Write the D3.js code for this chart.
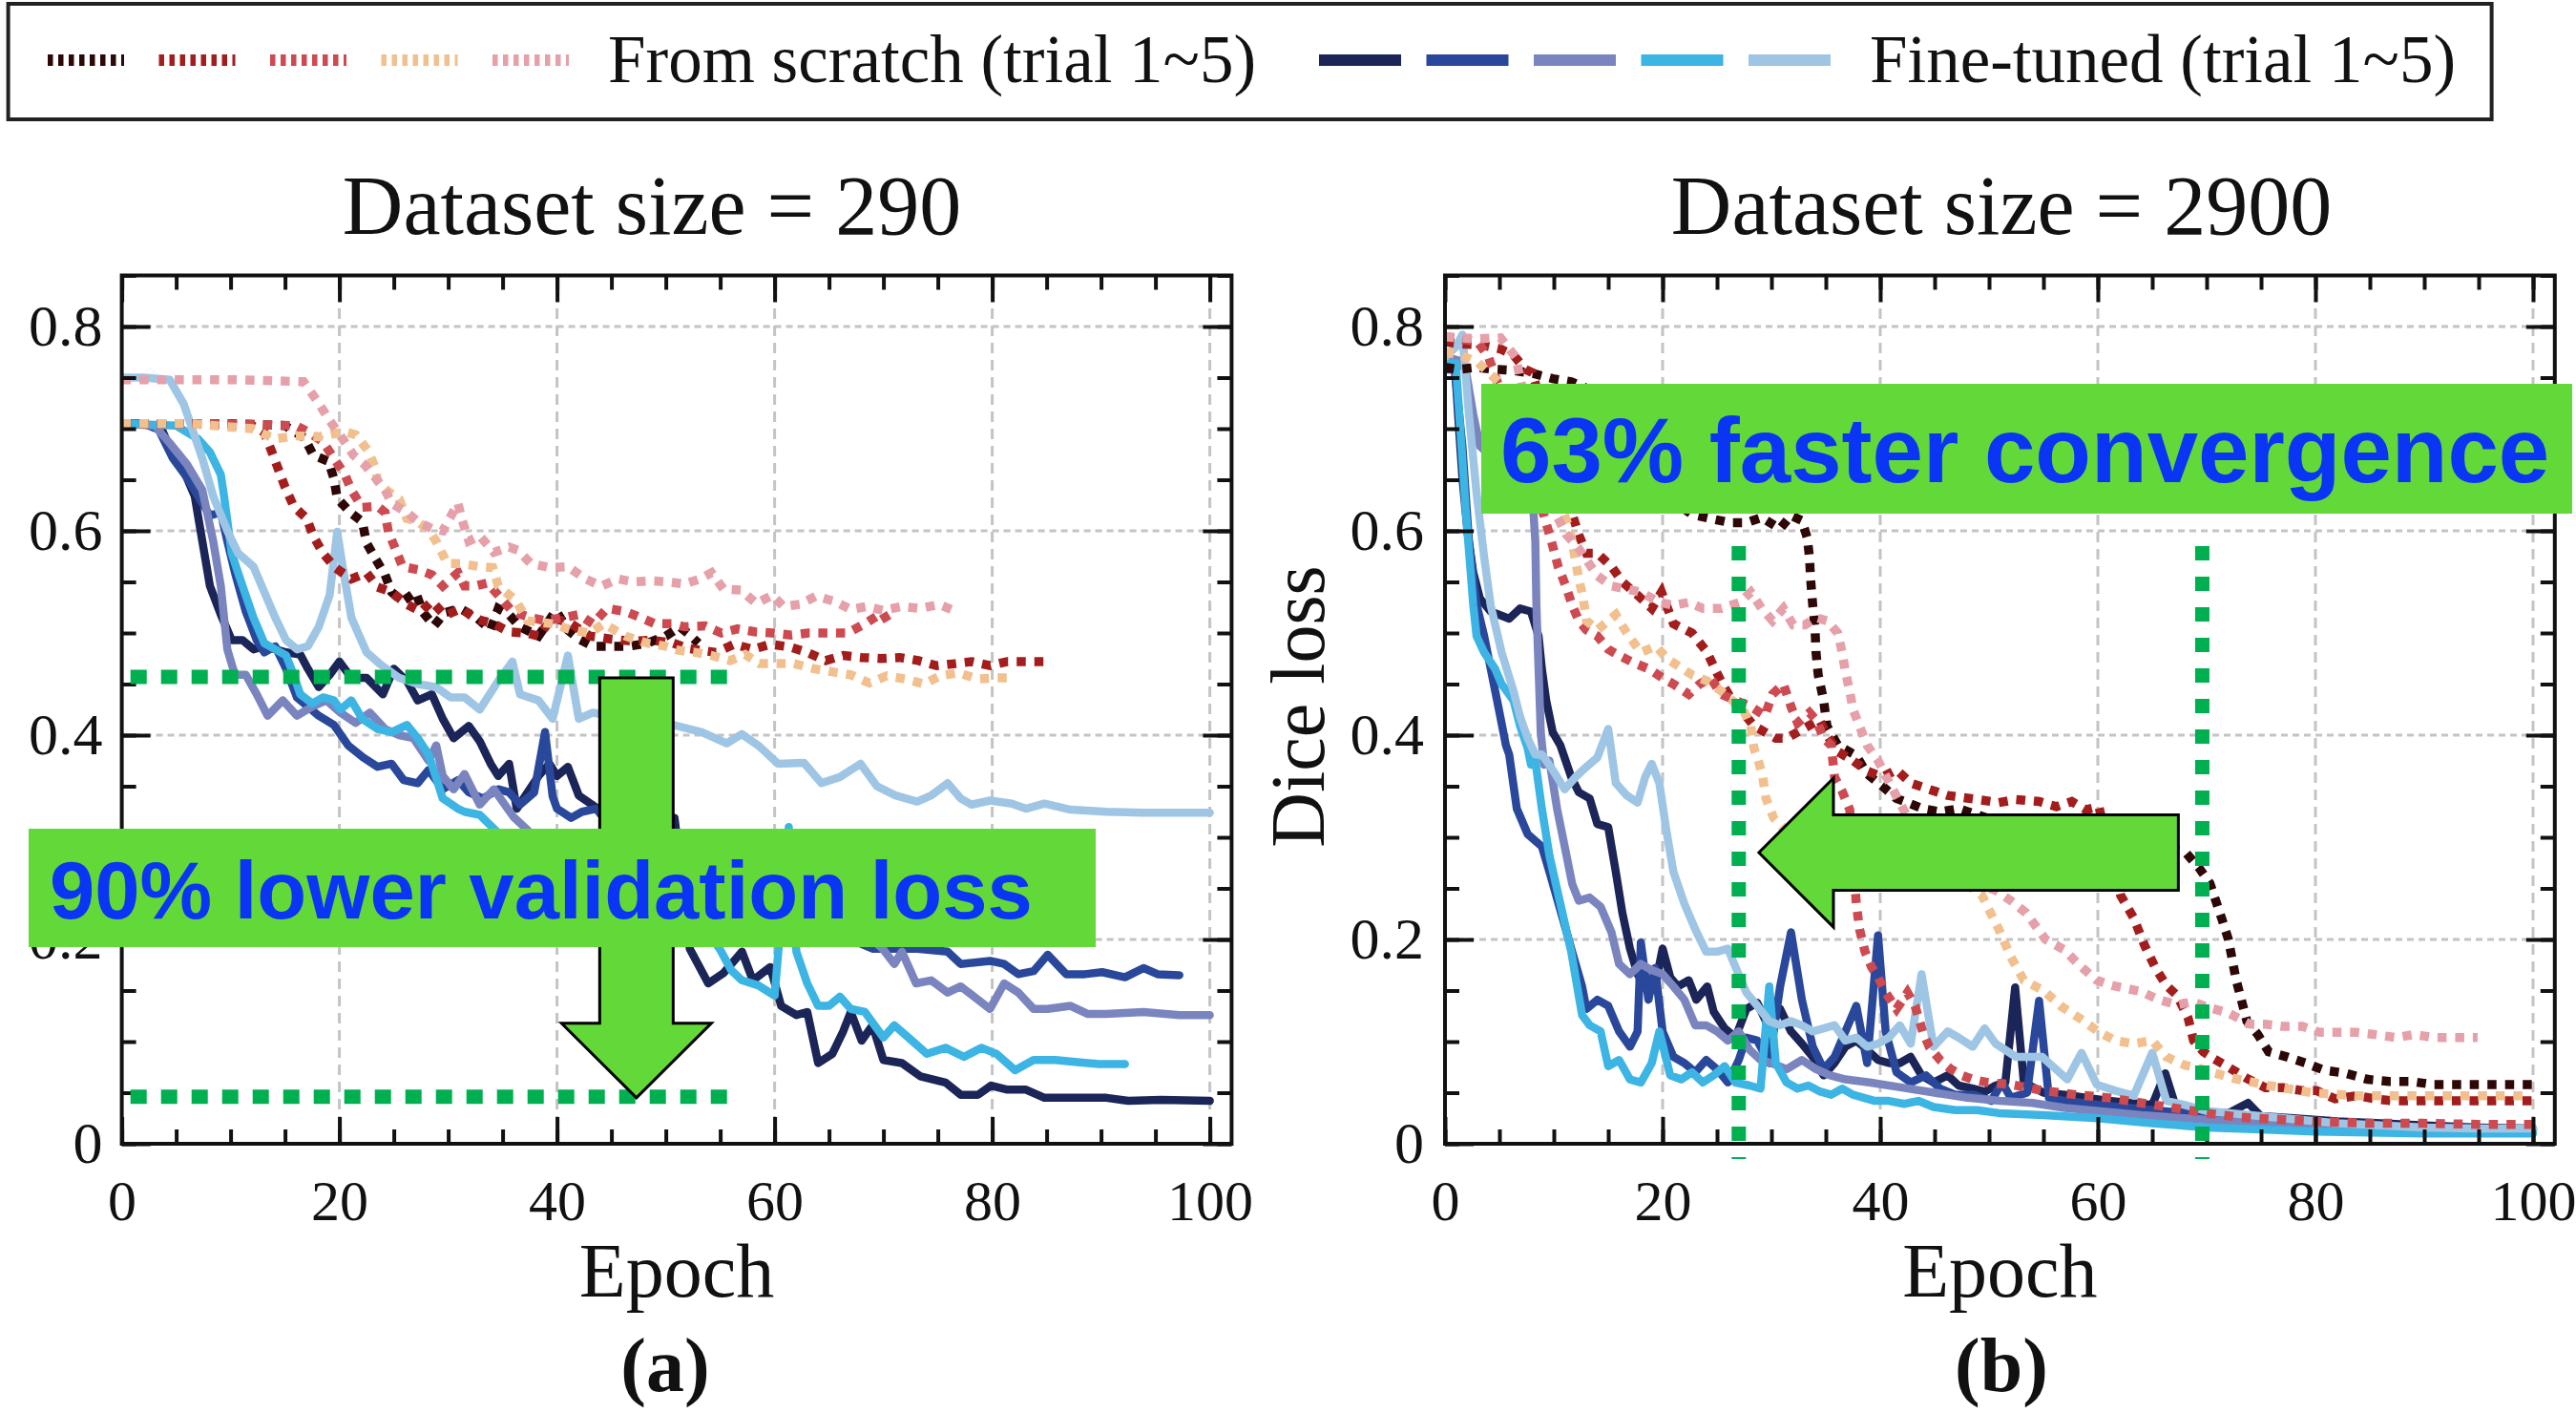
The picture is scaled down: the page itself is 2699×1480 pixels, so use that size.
<!DOCTYPE html>
<html><head><meta charset="utf-8">
<script src="https://cdn.jsdelivr.net/npm/d3@7"></script>
<style>html,body{margin:0;padding:0;background:#fff;}svg{display:block;}</style>
</head><body>
<svg id="chart" width="2699" height="1480"></svg>
<script>
// ---------------- DATA ----------------
const epochTicks = [0, 20, 40, 60, 80, 100];
const lossTicks = [0, 0.2, 0.4, 0.6, 0.8];
const lossTickLabels = ["0", "0.2", "0.4", "0.6", "0.8"];
const panelTitles = ["Dataset size = 290", "Dataset size = 2900"];
const panelTags = ["(a)", "(b)"];
const axisLabels = ["Epoch", "Dice loss"];
const legendLabels = ["From scratch (trial 1~5)", "Fine-tuned (trial 1~5)"];
const annotationTexts = ["90% lower validation loss", "63% faster convergence"];
const scratchColors = ["#2e0707", "#a31d1d", "#cc4a50", "#f2c08e", "#e5a0a9"];
const fineColors = ["#1b2558", "#2a489b", "#7a85bf", "#3cb4e4", "#9fc5e5"];

// Dataset size = 290 : from scratch, trials 1..5  [epoch, dice loss]
const scratch290_t1 = [[0,0.705],[5,0.705],[10,0.705],[15,0.703],[16.8,0.691],[17.6,0.674],[19,0.668],[19.5,0.651],[19.8,0.632],[21,0.618],[22.1,0.609],[22.5,0.588],[23.3,0.573],[24.2,0.557],[24.8,0.54],[25.8,0.531],[27,0.54],[27.7,0.52],[28.7,0.507],[29.7,0.52],[31.1,0.524],[32.6,0.515],[33.9,0.503],[34.6,0.524],[35.6,0.518],[36.6,0.506],[38.3,0.497],[39.9,0.522],[41,0.503],[42,0.494],[43.3,0.487],[45,0.487],[46.6,0.487],[48.3,0.49],[50,0.497],[51.3,0.506],[52,0.5],[53,0.49]];
const scratch290_t2 = [[0,0.705],[6,0.705],[12,0.703],[13.1,0.696],[13.8,0.677],[15,0.643],[15.8,0.624],[17,0.612],[17.6,0.595],[18.5,0.578],[19.6,0.564],[21.1,0.553],[22.5,0.559],[23.5,0.545],[24.8,0.54],[26.2,0.528],[27.5,0.521],[28.5,0.531],[29.7,0.517],[31.2,0.524],[32.5,0.514],[34.2,0.509],[35.6,0.501],[37.2,0.5],[38.3,0.497],[39.6,0.515],[41.3,0.509],[43,0.497],[45,0.494],[47,0.492],[48.7,0.493],[50.7,0.49],[52,0.485],[54.6,0.481],[56.3,0.489],[58,0.484],[59.6,0.489],[61.5,0.486],[63,0.481],[64.7,0.473],[66.3,0.478],[68,0.476],[69.7,0.475],[71.5,0.476],[73.2,0.473],[74.9,0.468],[76.6,0.47],[78.1,0.472],[79.8,0.468],[81.4,0.472],[83.3,0.472],[85,0.472]];
const scratch290_t3 = [[0,0.705],[8,0.705],[16,0.703],[17.1,0.697],[18.5,0.687],[19.5,0.671],[20.5,0.655],[21.1,0.64],[22.1,0.623],[23.5,0.624],[24.2,0.618],[24.5,0.599],[25.2,0.581],[25.8,0.565],[27.2,0.562],[28.5,0.557],[29.5,0.546],[30.9,0.559],[31.5,0.546],[32.5,0.546],[33.6,0.549],[34.6,0.537],[35.9,0.521],[37.6,0.515],[38.9,0.512],[40.6,0.515],[42,0.518],[43.3,0.509],[44.6,0.524],[46.3,0.521],[47.7,0.515],[49,0.509],[50.7,0.509],[51.7,0.506],[53.6,0.507],[55.1,0.5],[56.6,0.504],[58.3,0.501],[59.8,0.5],[61.5,0.498],[63.1,0.5],[64.9,0.5],[66.7,0.5],[68.3,0.509],[69.9,0.52],[70.7,0.506]];
const scratch290_t4 = [[0,0.705],[6,0.705],[12,0.7],[13,0.695],[14.1,0.69],[16,0.693],[18,0.692],[20.5,0.697],[21.5,0.694],[22.6,0.679],[23.3,0.662],[23.5,0.649],[24.3,0.64],[25.5,0.631],[26.2,0.612],[27.2,0.609],[28.2,0.601],[29,0.588],[29.9,0.568],[31.1,0.568],[32.9,0.565],[34.1,0.564],[34.6,0.546],[36.2,0.532],[37.3,0.512],[39.6,0.509],[41.3,0.503],[43,0.5],[44.3,0.509],[46.3,0.497],[48.3,0.49],[50,0.487],[51.2,0.483],[52.7,0.481],[54.2,0.478],[55.9,0.473],[57.3,0.479],[58.6,0.47],[60.1,0.47],[61.8,0.47],[63.6,0.465],[65.3,0.462],[67,0.459],[68.7,0.451],[70.3,0.458],[72,0.455],[73.7,0.45],[75.2,0.458],[76.9,0.461],[78.6,0.455],[80.2,0.456],[82.1,0.456]];
const scratch290_t5 = [[0,0.748],[5,0.748],[10,0.748],[16.7,0.746],[18.1,0.725],[19.1,0.708],[20.3,0.69],[21.3,0.674],[22.3,0.665],[23.3,0.652],[24.2,0.64],[24.8,0.627],[26.2,0.618],[27.2,0.609],[28.5,0.602],[29.5,0.6],[30.9,0.627],[31.3,0.61],[31.9,0.59],[32.9,0.595],[34.2,0.579],[35.6,0.584],[36.4,0.581],[37.6,0.568],[39.3,0.564],[41,0.565],[42.6,0.553],[44.1,0.546],[45.6,0.553],[47.1,0.55],[48.7,0.551],[50.2,0.55],[51.7,0.548],[53.2,0.553],[54.2,0.559],[55.3,0.543],[56.9,0.542],[58.3,0.529],[59.8,0.537],[60.8,0.526],[62.3,0.528],[63.8,0.536],[65.5,0.531],[67,0.523],[68.5,0.526],[70,0.522],[71.7,0.526],[73.4,0.524],[75.1,0.528],[76.9,0.52]];

// Dataset size = 290 : fine-tuned, trials 1..5
const fine290_t1 = [[0,0.705],[2,0.705],[3.7,0.699],[4.7,0.674],[5.7,0.659],[6.7,0.634],[7.4,0.59],[8.1,0.546],[9.1,0.518],[10.1,0.493],[11.1,0.493],[12.1,0.484],[13.1,0.487],[14.1,0.484],[15.1,0.481],[16.4,0.479],[17.1,0.465],[18.1,0.447],[19.1,0.459],[20,0.472],[21.1,0.456],[22.5,0.456],[24,0.44],[25,0.465],[26.2,0.453],[27.2,0.434],[28.5,0.44],[29.5,0.416],[30.5,0.397],[31.9,0.409],[32.9,0.394],[33.9,0.372],[34.6,0.36],[35.6,0.372],[36.3,0.328],[37.3,0.344],[38.3,0.36],[39.3,0.372],[40,0.36],[41,0.369],[42,0.341],[43.5,0.33],[45,0.31],[47,0.3],[49,0.31],[50.8,0.319],[51.5,0.26],[52.2,0.191],[53.9,0.157],[55.3,0.167],[57,0.188],[58,0.16],[59.6,0.173],[60.6,0.135],[62,0.126],[63,0.129],[64,0.079],[65.3,0.088],[66.3,0.11],[67,0.129],[68,0.101],[69,0.116],[70,0.082],[71.7,0.079],[73.4,0.066],[75.7,0.06],[77.1,0.048],[78.7,0.048],[79.9,0.057],[81.4,0.053],[83.1,0.053],[84.8,0.045],[87.2,0.045],[90.5,0.045],[92.5,0.042],[95.5,0.043],[100,0.042]];
const fine290_t2 = [[0,0.705],[2,0.705],[3.4,0.699],[4.7,0.671],[6,0.652],[7,0.634],[8.1,0.615],[9.1,0.618],[9.7,0.59],[10.4,0.559],[11.4,0.521],[12.4,0.493],[13.1,0.481],[14.1,0.487],[15.1,0.465],[16.1,0.437],[17.1,0.428],[18.1,0.419],[19.5,0.41],[20.8,0.39],[22.2,0.378],[23.5,0.369],[24.8,0.372],[25.9,0.356],[27.2,0.353],[28.2,0.366],[29.5,0.347],[30.9,0.356],[31.9,0.344],[33.2,0.338],[34.6,0.347],[35.6,0.344],[36.6,0.332],[37.9,0.344],[38.9,0.403],[39.6,0.34],[40,0.328],[41.3,0.319],[42.3,0.325],[43.6,0.328],[45,0.31],[47,0.295],[49,0.28],[51,0.27],[53,0.26],[55,0.25],[57,0.245],[59,0.235],[61,0.23],[63,0.22],[65,0.21],[67,0.2],[69,0.191],[70.9,0.191],[72.9,0.191],[75.9,0.188],[77.1,0.176],[79.8,0.179],[81.1,0.176],[82.4,0.166],[83.8,0.169],[85.1,0.185],[86.8,0.166],[88.5,0.166],[90.1,0.168],[92.2,0.163],[93.9,0.172],[95.2,0.166],[97.2,0.165]];
const fine290_t3 = [[0,0.705],[3,0.703],[4.4,0.686],[6,0.665],[7.4,0.64],[8.4,0.59],[9.1,0.546],[9.7,0.484],[10.4,0.459],[11.4,0.459],[12.4,0.44],[13.4,0.419],[14.8,0.434],[16.1,0.419],[17.5,0.428],[18.8,0.434],[20.1,0.422],[21.5,0.412],[22.8,0.422],[24.2,0.406],[25.5,0.4],[26.8,0.397],[28.2,0.375],[28.9,0.39],[29.5,0.36],[30.5,0.347],[31.5,0.362],[32.9,0.332],[34.2,0.347],[36,0.32],[38,0.3],[40,0.29],[43,0.28],[46,0.27],[50,0.26],[54,0.25],[58,0.24],[62,0.23],[66,0.21],[69,0.2],[70,0.19],[71,0.176],[71.7,0.188],[73,0.157],[74.4,0.16],[75.9,0.148],[77.1,0.154],[79.8,0.132],[81.1,0.157],[82.4,0.148],[83.8,0.132],[85.1,0.132],[87.2,0.135],[88.8,0.127],[90.5,0.127],[93.9,0.129],[97.2,0.126],[100,0.126]];
const fine290_t4 = [[0,0.705],[5,0.703],[7,0.69],[8.1,0.677],[9.1,0.655],[9.4,0.634],[10.1,0.578],[11.1,0.546],[12.1,0.515],[13.1,0.49],[14.1,0.484],[15.1,0.478],[15.8,0.459],[16.4,0.44],[17.5,0.431],[18.5,0.437],[19.5,0.434],[20.1,0.425],[21.1,0.434],[22.1,0.416],[23.5,0.406],[24.8,0.403],[26.2,0.41],[27.2,0.397],[28.2,0.381],[29.5,0.338],[30.9,0.328],[31.5,0.325],[32.9,0.322],[35,0.3],[38,0.28],[42,0.27],[46,0.26],[50,0.24],[53,0.22],[55,0.19],[56,0.17],[57,0.16],[58.5,0.155],[60,0.145],[61.3,0.31],[62,0.188],[63,0.157],[64,0.135],[65,0.135],[66,0.144],[67,0.132],[68.3,0.129],[70,0.104],[71,0.116],[72.3,0.104],[74,0.088],[75.7,0.094],[77.4,0.085],[79,0.094],[80.4,0.088],[82.1,0.072],[83.8,0.082],[85.8,0.082],[87.8,0.08],[89.8,0.078],[92.2,0.078]];
const fine290_t5 = [[0,0.75],[2,0.75],[4.4,0.748],[5.7,0.724],[6.4,0.702],[7.4,0.671],[8.4,0.634],[9.7,0.6],[10.7,0.578],[12.1,0.565],[13.1,0.54],[14.1,0.515],[15.1,0.493],[16.1,0.484],[17.1,0.487],[18.1,0.506],[19.1,0.537],[19.8,0.599],[20.3,0.565],[21.1,0.515],[22.5,0.481],[23.8,0.469],[25.5,0.456],[27.2,0.45],[28.9,0.447],[30.2,0.437],[31.5,0.437],[32.9,0.425],[34.6,0.453],[35.9,0.472],[36.6,0.44],[38.3,0.434],[39.6,0.416],[41,0.478],[42,0.416],[43.3,0.422],[44.6,0.419],[46,0.422],[47.3,0.422],[49,0.419],[50.7,0.41],[53.3,0.403],[55.6,0.392],[57,0.401],[58.6,0.389],[60.3,0.372],[62.7,0.373],[64.3,0.353],[66,0.359],[67.9,0.372],[69.4,0.35],[71.1,0.341],[73.1,0.335],[74.4,0.341],[75.9,0.353],[77.1,0.338],[78.1,0.332],[79.8,0.336],[81.8,0.333],[83.1,0.328],[84.8,0.333],[87.2,0.327],[90.5,0.325],[93.9,0.324],[97.2,0.324],[100,0.324]];

// Dataset size = 2900 : from scratch, trials 1..5
const scratch2900_t1 = [[0,0.76],[1.2,0.758],[2.9,0.76],[4.6,0.758],[6.3,0.757],[8.1,0.754],[9.9,0.749],[11.6,0.746],[14,0.735],[16,0.71],[18,0.68],[20,0.645],[21.5,0.625],[22.7,0.616],[24.4,0.612],[26.2,0.608],[27.7,0.608],[29.1,0.613],[30.8,0.602],[31.8,0.615],[32.8,0.61],[33.3,0.593],[33.5,0.574],[33.6,0.553],[33.8,0.527],[34,0.506],[34.1,0.481],[34.3,0.459],[34.8,0.434],[35.1,0.409],[36.1,0.39],[37.8,0.38],[38.8,0.362],[40.2,0.35],[41.5,0.338],[42.5,0.334],[43.9,0.328],[45.5,0.325],[47.2,0.328],[48.9,0.322],[51,0.315],[54,0.31],[57,0.305],[60,0.3],[63,0.295],[66,0.29],[68,0.286],[69.3,0.27],[70.3,0.255],[71.4,0.22],[72,0.2],[72.7,0.161],[73.7,0.12],[74.7,0.107],[75.7,0.09],[77.4,0.085],[79.1,0.079],[80.8,0.072],[82.8,0.069],[84.8,0.063],[86.8,0.061],[88.8,0.061],[90.8,0.058],[93.5,0.058],[95.5,0.058],[98.9,0.058],[100,0.058]];
const scratch2900_t2 = [[0,0.785],[1.4,0.783],[3.4,0.782],[5.1,0.778],[6.3,0.772],[7.4,0.758],[8,0.755],[9,0.72],[10,0.68],[11,0.64],[12.3,0.596],[13,0.578],[14,0.578],[15.3,0.565],[16.3,0.55],[17.7,0.537],[19,0.524],[19.9,0.54],[21,0.509],[22.7,0.5],[24.1,0.481],[24.8,0.465],[25.5,0.45],[26.4,0.434],[27.4,0.422],[28.4,0.409],[29.4,0.403],[30.4,0.397],[31.4,0.397],[32.4,0.403],[33.4,0.409],[34.4,0.415],[35.1,0.4],[36.1,0.384],[37.5,0.375],[38.8,0.365],[40.2,0.359],[41.5,0.366],[42.8,0.353],[44.5,0.347],[46.2,0.341],[47.5,0.339],[49.6,0.336],[50.9,0.334],[52.5,0.337],[54.6,0.335],[56.2,0.33],[57.6,0.335],[58.9,0.327],[60.1,0.33],[61,0.29],[62.1,0.243],[63.3,0.221],[64.3,0.194],[65.3,0.172],[66.3,0.155],[67.3,0.145],[68.3,0.123],[68.8,0.101],[69.7,0.09],[70.7,0.083],[72,0.075],[73.7,0.064],[75.4,0.055],[77,0.055],[78.8,0.052],[80.1,0.052],[81.8,0.044],[83.8,0.047],[85.5,0.044],[87.1,0.042],[90,0.042],[94,0.042],[97,0.042],[100,0.042]];
const scratch2900_t3 = [[0,0.79],[1.4,0.788],[3,0.785],[4,0.77],[5,0.74],[6,0.71],[7,0.68],[8,0.645],[9.1,0.615],[9.8,0.589],[10.4,0.565],[11.1,0.546],[11.7,0.527],[12.3,0.512],[13,0.503],[14,0.497],[15,0.484],[16,0.478],[17.3,0.471],[18.7,0.465],[20,0.456],[21,0.45],[22.4,0.44],[23.4,0.45],[24.4,0.456],[25.4,0.44],[26.7,0.434],[28.1,0.428],[29.4,0.419],[30.1,0.44],[31.1,0.45],[31.8,0.428],[32.4,0.412],[33.5,0.422],[34.1,0.415],[34.8,0.397],[35.5,0.39],[35.8,0.359],[36.5,0.345],[37.2,0.327],[37.5,0.282],[37.8,0.235],[38.1,0.21],[38.6,0.188],[39.2,0.173],[39.8,0.163],[40.5,0.148],[41.5,0.132],[42.5,0.148],[43.2,0.135],[43.9,0.11],[44.5,0.095],[45.5,0.082],[46.5,0.073],[47.5,0.067],[48.5,0.063],[49.9,0.06],[52,0.058],[55,0.052],[58,0.048],[61,0.045],[64,0.04],[67,0.035],[70,0.03],[73,0.026],[76,0.024],[80,0.022],[85,0.02],[90,0.02],[95,0.019],[100,0.019]];
const scratch2900_t4 = [[0,0.775],[1.4,0.772],[3,0.765],[5,0.745],[7,0.71],[9,0.67],[10.5,0.63],[11.5,0.6],[12.3,0.553],[12.7,0.534],[13,0.512],[14,0.503],[15.7,0.518],[16.7,0.5],[18,0.481],[19.4,0.487],[20.4,0.475],[21.4,0.468],[22.7,0.459],[24.1,0.453],[25.4,0.443],[26.4,0.434],[27.4,0.425],[28.1,0.409],[28.4,0.387],[28.8,0.375],[29.2,0.359],[29.5,0.338],[30.2,0.319],[31,0.31],[33,0.3],[36,0.29],[40,0.28],[44,0.27],[47,0.26],[49.3,0.244],[50.9,0.21],[52,0.183],[53.2,0.16],[55,0.15],[56.7,0.134],[58.6,0.121],[60,0.11],[61.6,0.101],[63.3,0.098],[65,0.101],[66.3,0.085],[68,0.077],[69.3,0.074],[70.1,0.071],[72.5,0.064],[75.7,0.057],[79.7,0.05],[83.7,0.047],[87,0.047],[91.6,0.047],[95,0.047],[99.6,0.047]];
const scratch2900_t5 = [[0,0.79],[1.4,0.789],[3.1,0.788],[5.1,0.789],[6.5,0.77],[7.5,0.72],[8.5,0.67],[9.5,0.63],[10.4,0.612],[11.1,0.597],[12.2,0.584],[14,0.556],[15.3,0.546],[16.7,0.543],[18,0.54],[19.7,0.53],[21,0.527],[22.4,0.53],[23.7,0.524],[25.4,0.524],[27.1,0.53],[28.1,0.54],[29.1,0.524],[30.1,0.512],[31.1,0.524],[32,0.508],[33.1,0.508],[34.1,0.515],[35.1,0.512],[36.1,0.5],[36.5,0.481],[36.8,0.462],[37.2,0.443],[37.5,0.425],[38.2,0.406],[38.8,0.39],[39.8,0.375],[41,0.35],[42,0.33],[43,0.31],[44,0.3],[45,0.29],[46,0.28],[47,0.27],[48,0.26],[49,0.255],[50.6,0.248],[52,0.238],[53.4,0.226],[55.2,0.2],[56.9,0.19],[58.3,0.175],[59.9,0.16],[61.3,0.155],[62.6,0.152],[64,0.149],[65.6,0.141],[67.3,0.136],[68.7,0.139],[70.3,0.133],[72,0.128],[74,0.117],[75.4,0.117],[77,0.115],[78.8,0.115],[80.4,0.109],[82.1,0.109],[83.8,0.109],[85.4,0.107],[87.4,0.104],[89.1,0.107],[90.8,0.104],[92.8,0.104],[94.9,0.104]];

// Dataset size = 2900 : fine-tuned, trials 1..5
const fine2900_t1 = [[0,0.764],[0.9,0.764],[1.2,0.714],[1.6,0.652],[2.1,0.596],[2.6,0.559],[3.2,0.534],[4.2,0.521],[5.9,0.514],[6.9,0.524],[7.9,0.521],[8.6,0.497],[8.9,0.465],[9.3,0.434],[9.9,0.403],[10.6,0.39],[11.6,0.359],[12.3,0.344],[13.3,0.338],[14,0.313],[15,0.31],[15.7,0.266],[16.3,0.226],[17,0.191],[17.7,0.166],[18.7,0.148],[19.3,0.154],[20,0.191],[20.7,0.163],[21.4,0.154],[22.4,0.16],[23.1,0.141],[24.1,0.154],[24.7,0.129],[25.7,0.113],[26.7,0.104],[27.7,0.132],[28.7,0.138],[29.8,0.113],[30.8,0.132],[31.8,0.11],[32.8,0.098],[33.8,0.085],[34.8,0.067],[35.8,0.079],[36.8,0.095],[37.8,0.101],[38.8,0.092],[39.8,0.082],[40.8,0.079],[41.8,0.079],[42.8,0.085],[43.8,0.067],[44.9,0.06],[46.2,0.067],[47.2,0.057],[48.5,0.054],[49.6,0.051],[50.6,0.057],[51.5,0.06],[52.4,0.153],[53.2,0.06],[55,0.05],[57,0.048],[59,0.045],[61,0.042],[63,0.04],[65,0.038],[66.2,0.069],[67.2,0.035],[69,0.032],[72,0.03],[73.8,0.04],[75,0.027],[78,0.025],[82,0.022],[86,0.02],[90,0.018],[95,0.016],[100,0.015]];
const fine2900_t2 = [[0,0.758],[0.9,0.758],[1.6,0.683],[2.2,0.59],[2.9,0.528],[3.6,0.497],[4.2,0.465],[4.9,0.428],[5.6,0.39],[5.9,0.381],[6.6,0.328],[7.6,0.303],[8.9,0.291],[9.6,0.266],[10.6,0.229],[11.6,0.191],[12.6,0.154],[13,0.132],[14,0.141],[15,0.135],[16,0.11],[17,0.095],[17.7,0.11],[18,0.197],[18.7,0.141],[19.3,0.172],[20,0.11],[21,0.085],[22,0.079],[23,0.07],[24,0.082],[25,0.073],[26,0.06],[27,0.082],[27.7,0.104],[28.7,0.101],[29.8,0.079],[30.8,0.154],[31.8,0.207],[32.8,0.141],[33.8,0.095],[34.8,0.073],[35.8,0.085],[36.8,0.11],[37.8,0.135],[38.8,0.079],[39.8,0.204],[40.5,0.11],[41.5,0.07],[42.8,0.06],[44.2,0.067],[45.5,0.054],[46.9,0.048],[48.6,0.048],[50.2,0.042],[51.2,0.06],[52,0.045],[53.5,0.05],[54.6,0.14],[55.5,0.045],[57,0.042],[60,0.038],[63,0.035],[66,0.032],[70,0.028],[75,0.024],[80,0.02],[85,0.018],[90,0.016],[95,0.015],[100,0.014]];
const fine2900_t3 = [[0,0.77],[1.2,0.767],[1.9,0.758],[2.6,0.714],[3.2,0.683],[4,0.675],[5,0.672],[6,0.668],[7,0.66],[8,0.64],[8.3,0.59],[8.4,0.527],[8.6,0.465],[8.8,0.403],[9.1,0.371],[9.6,0.375],[10.3,0.328],[11,0.291],[11.7,0.254],[12.3,0.238],[13.3,0.241],[14.3,0.232],[15.3,0.207],[16,0.176],[17,0.166],[18,0.176],[19,0.17],[20,0.166],[21,0.154],[22,0.141],[23,0.116],[24,0.116],[25,0.11],[26,0.101],[27,0.11],[28,0.092],[29,0.082],[30,0.079],[31.4,0.073],[32.8,0.082],[34.1,0.073],[35.4,0.067],[36.8,0.063],[39,0.06],[42,0.055],[45,0.05],[48,0.045],[51,0.042],[54,0.04],[57,0.035],[60,0.032],[64,0.028],[68,0.025],[72,0.022],[76,0.02],[80,0.018],[85,0.016],[90,0.015],[95,0.014],[100,0.013]];
const fine2900_t4 = [[0,0.764],[1,0.764],[1.9,0.621],[2.6,0.527],[2.9,0.497],[3.6,0.481],[4.6,0.465],[5.2,0.45],[6.3,0.434],[6.9,0.409],[7.6,0.387],[7.9,0.371],[8.3,0.375],[8.9,0.328],[9.6,0.282],[10.6,0.235],[11.6,0.188],[12.6,0.126],[13.3,0.116],[14.3,0.11],[15,0.076],[16,0.082],[17,0.063],[18,0.06],[19,0.079],[19.7,0.11],[20.7,0.067],[21.7,0.063],[22.7,0.07],[23.7,0.06],[24.7,0.067],[25.7,0.076],[26.7,0.06],[28,0.057],[29,0.054],[29.8,0.154],[30.4,0.079],[31.4,0.06],[32.4,0.054],[33.4,0.057],[34.5,0.051],[35.5,0.048],[36.5,0.054],[37.5,0.048],[38.5,0.045],[39.5,0.042],[40.8,0.042],[42.2,0.039],[43.5,0.042],[44.9,0.036],[46.9,0.033],[48.9,0.033],[50.9,0.03],[55,0.028],[60,0.025],[65,0.02],[70,0.016],[75,0.014],[80,0.012],[85,0.011],[90,0.01],[95,0.01],[100,0.01]];
const fine2900_t5 = [[0,0.77],[1,0.78],[1.6,0.792],[2.2,0.714],[2.9,0.637],[3.6,0.574],[4.2,0.527],[5.2,0.481],[6.3,0.443],[6.9,0.418],[7.6,0.397],[8.3,0.381],[8.9,0.381],[9.9,0.366],[11,0.347],[12,0.359],[13,0.369],[14,0.378],[15,0.406],[15.7,0.353],[16.7,0.341],[17.7,0.334],[18.4,0.359],[19,0.372],[19.7,0.353],[20.4,0.303],[21,0.266],[22,0.235],[23,0.21],[24,0.188],[25,0.188],[26,0.191],[26.7,0.173],[27.7,0.148],[28.7,0.135],[29.8,0.12],[30.8,0.116],[31.8,0.12],[32.8,0.116],[33.8,0.11],[34.8,0.113],[35.8,0.116],[36.8,0.101],[37.8,0.104],[38.8,0.095],[39.8,0.098],[40.8,0.104],[41.8,0.116],[42.8,0.098],[43.8,0.166],[44.9,0.095],[46.2,0.11],[47.2,0.104],[48.5,0.095],[49.6,0.113],[50.6,0.098],[52.5,0.085],[54.9,0.085],[57.2,0.063],[58.5,0.089],[59.9,0.058],[61.6,0.052],[63.3,0.047],[65,0.089],[66.3,0.042],[68,0.038],[70,0.032],[74,0.028],[78,0.024],[82,0.02],[86,0.018],[90,0.016],[95,0.015],[100,0.015]];

// ---------------- DRAWING ----------------
const svg = d3.select("#chart");
svg.append("rect").attr("width", 2699).attr("height", 1480).attr("fill", "#fff");
const SERIF = "'Liberation Serif','Times New Roman',serif";
const SANS = "'Liberation Sans',Arial,sans-serif";
const INK = "#111";

const panels = [
  { x0: 127.6, scratch: [scratch290_t1, scratch290_t2, scratch290_t3, scratch290_t4, scratch290_t5],
    fine: [fine290_t1, fine290_t2, fine290_t3, fine290_t4, fine290_t5], titleX: 683, tagX: 697, ylab: false },
  { x0: 1514, scratch: [scratch2900_t1, scratch2900_t2, scratch2900_t3, scratch2900_t4, scratch2900_t5],
    fine: [fine2900_t1, fine2900_t2, fine2900_t3, fine2900_t4, fine2900_t5], titleX: 2097, tagX: 2097, ylab: true }
];

const scales = [];
panels.forEach((p, pi) => {
  const x = d3.scaleLinear().domain([0, 102]).range([p.x0, p.x0 + 102 * 11.4]);
  const y = d3.scaleLinear().domain([0, 0.85]).range([1198, 288.5]);
  scales.push({ x, y });
  const g = svg.append("g");

  const cid = "clip" + pi;
  svg.append("clipPath").attr("id", cid).append("rect")
    .attr("x", x(0)).attr("y", y(0.85)).attr("width", x(102) - x(0)).attr("height", y(0) - y(0.85));

  // grid
  g.append("g").selectAll("line").data(epochTicks.filter(t => t > 0)).join("line")
    .attr("x1", d => x(d)).attr("x2", d => x(d)).attr("y1", y(0)).attr("y2", y(0.85))
    .attr("stroke", "#c4c4c4").attr("stroke-width", 3).attr("stroke-dasharray", "11,7");
  g.append("g").selectAll("line").data(lossTicks.filter(t => t > 0)).join("line")
    .attr("x1", x(0)).attr("x2", x(102)).attr("y1", d => y(d)).attr("y2", d => y(d))
    .attr("stroke", "#c4c4c4").attr("stroke-width", 3.2).attr("stroke-dasharray", "7,5");

  const line = d3.line().x(d => x(d[0])).y(d => y(d[1]));
  const lg = g.append("g").attr("clip-path", `url(#${cid})`);
  p.fine.forEach((s, i) => {
    lg.append("path").datum(s).attr("d", line).attr("fill", "none")
      .attr("stroke", fineColors[i]).attr("stroke-width", 8.5)
      .attr("stroke-linejoin", "round").attr("stroke-linecap", "round");
  });
  p.scratch.forEach((s, i) => {
    lg.append("path").datum(s).attr("d", line).attr("fill", "none")
      .attr("stroke", scratchColors[i]).attr("stroke-width", 9.5)
      .attr("stroke-dasharray", "9.5,9").attr("stroke-linejoin", "miter");
  });

  // frame
  g.append("rect").attr("x", x(0)).attr("y", y(0.85)).attr("width", x(102) - x(0)).attr("height", y(0) - y(0.85))
    .attr("fill", "none").attr("stroke", INK).attr("stroke-width", 4);

  const minorE = d3.range(0, 101, 5);
  const minorL = d3.range(0, 0.851, 0.05);
  const styleAxis = (sel, fs) => {
    sel.select(".domain").remove();
    sel.selectAll(".tick line").attr("stroke", INK).attr("stroke-width", 4);
    sel.attr("font-family", SERIF).attr("font-size", fs || 62);
    sel.selectAll("text").attr("fill", INK);
  };
  // bottom
  g.append("g").attr("transform", `translate(0,${y(0)})`)
    .call(d3.axisBottom(x).tickValues(minorE).tickSize(-15).tickFormat("")).call(styleAxis);
  g.append("g").attr("transform", `translate(0,${y(0)})`)
    .call(d3.axisBottom(x).tickValues(epochTicks).tickSize(-28).tickPadding(37).tickFormat(d3.format("d"))).call(styleAxis, 60);
  // top
  g.append("g").attr("transform", `translate(0,${y(0.85)})`)
    .call(d3.axisTop(x).tickValues(minorE).tickSize(-15).tickFormat("")).call(styleAxis);
  g.append("g").attr("transform", `translate(0,${y(0.85)})`)
    .call(d3.axisTop(x).tickValues(epochTicks).tickSize(-28).tickFormat("")).call(styleAxis);
  // left
  g.append("g").attr("transform", `translate(${x(0)},0)`)
    .call(d3.axisLeft(y).tickValues(minorL).tickSize(-15).tickFormat("")).call(styleAxis);
  g.append("g").attr("transform", `translate(${x(0)},0)`)
    .call(d3.axisLeft(y).tickValues(lossTicks).tickSize(-30).tickPadding(pi === 0 ? 20 : 22)
      .tickFormat((d, i) => lossTickLabels[i])).call(styleAxis);
  // right
  g.append("g").attr("transform", `translate(${x(102)},0)`)
    .call(d3.axisRight(y).tickValues(minorL).tickSize(-15).tickFormat("")).call(styleAxis);
  g.append("g").attr("transform", `translate(${x(102)},0)`)
    .call(d3.axisRight(y).tickValues(lossTicks).tickSize(-30).tickFormat("")).call(styleAxis);

  // texts
  g.append("text").attr("x", p.titleX).attr("y", 245).attr("text-anchor", "middle")
    .attr("font-family", SERIF).attr("font-size", 88).attr("fill", INK).text(panelTitles[pi]);
  g.append("text").attr("x", (x(0) + x(102)) / 2).attr("y", 1358).attr("text-anchor", "middle")
    .attr("font-family", SERIF).attr("font-size", 80).attr("fill", INK).text(axisLabels[0]);
  g.append("text").attr("x", p.tagX).attr("y", 1457).attr("text-anchor", "middle")
    .attr("font-family", SERIF).attr("font-weight", "bold").attr("font-size", 80).attr("fill", INK).text(panelTags[pi]);
  if (p.ylab) {
    g.append("text").attr("transform", `translate(${x(0) - 154},${y(0.428)}) rotate(-90)`)
      .attr("text-anchor", "middle").attr("dominant-baseline", "central")
      .attr("font-family", SERIF).attr("font-size", 80).attr("fill", INK).text(axisLabels[1]);
  }
});

// ---------------- LEGEND ----------------
const leg = svg.append("g");
leg.append("rect").attr("x", 8.6).attr("y", 4).attr("width", 2602).attr("height", 121)
  .attr("fill", "#fff").attr("stroke", "#222").attr("stroke-width", 4);
const legY = 63;
scratchColors.forEach((c, i) => {
  const sx = 50 + i * 116.5;
  leg.append("line").attr("x1", sx).attr("x2", sx + 80).attr("y1", legY).attr("y2", legY)
    .attr("stroke", c).attr("stroke-width", 12).attr("stroke-dasharray", "5.5,5.5");
});
leg.append("text").attr("x", 637).attr("y", 86).attr("font-family", SERIF).attr("font-size", 71)
  .attr("fill", INK).text(legendLabels[0]);
fineColors.forEach((c, i) => {
  const sx = 1382 + i * 112.5;
  leg.append("line").attr("x1", sx).attr("x2", sx + 86).attr("y1", legY).attr("y2", legY)
    .attr("stroke", c).attr("stroke-width", 12);
});
leg.append("text").attr("x", 1959).attr("y", 86).attr("font-family", SERIF).attr("font-size", 71)
  .attr("fill", INK).text(legendLabels[1]);

// ---------------- ANNOTATIONS ----------------
const GREEN_DOT = "#00b050", GREEN = "#62d938", BLUE = "#0a35f4";
const ann = svg.append("g");
const L = scales[0], R = scales[1];
[0.457, 0.046].forEach(v => {
  ann.append("line").attr("x1", L.x(0.8)).attr("x2", L.x(55.7)).attr("y1", L.y(v)).attr("y2", L.y(v))
    .attr("stroke", GREEN_DOT).attr("stroke-width", 15).attr("stroke-dasharray", "17,15");
});
{
  const cx = L.x(47.3), sw = 38.5, hw = 78.5;
  const top = L.y(0.456), hb = L.y(0.118), tip = L.y(0.045);
  ann.append("path").attr("d", `M${cx - sw},${top} L${cx + sw},${top} L${cx + sw},${hb} L${cx + hw},${hb} L${cx},${tip} L${cx - hw},${hb} L${cx - sw},${hb} Z`)
    .attr("fill", GREEN).attr("stroke", "#000").attr("stroke-width", 3).attr("stroke-linejoin", "miter");
}
ann.append("rect").attr("x", 30).attr("y", 868).attr("width", 1118).attr("height", 124).attr("fill", GREEN);
ann.append("text").attr("x", 52).attr("y", 962).attr("font-family", SANS).attr("font-weight", "bold")
  .attr("font-size", 85).attr("fill", BLUE).text(annotationTexts[0]);

[27.0, 69.6].forEach(e => {
  ann.append("line").attr("x1", R.x(e)).attr("x2", R.x(e)).attr("y1", R.y(0.585)).attr("y2", R.y(-0.015))
    .attr("stroke", GREEN_DOT).attr("stroke-width", 15).attr("stroke-dasharray", "15,17");
});
{
  const cy = R.y(0.285), sh = 39.5, hh = 78;
  const tip = R.x(28.85), hb = R.x(35.7), right = R.x(67.4);
  ann.append("path").attr("d", `M${right},${cy - sh} L${hb},${cy - sh} L${hb},${cy - hh} L${tip},${cy} L${hb},${cy + hh} L${hb},${cy + sh} L${right},${cy + sh} Z`)
    .attr("fill", GREEN).attr("stroke", "#000").attr("stroke-width", 3);
}
ann.append("rect").attr("x", 1552).attr("y", 402).attr("width", 1143).attr("height", 136).attr("fill", GREEN);
ann.append("text").attr("x", 1572).attr("y", 505).attr("font-family", SANS).attr("font-weight", "bold")
  .attr("font-size", 96).attr("fill", BLUE).text(annotationTexts[1]);
</script>
</body></html>
